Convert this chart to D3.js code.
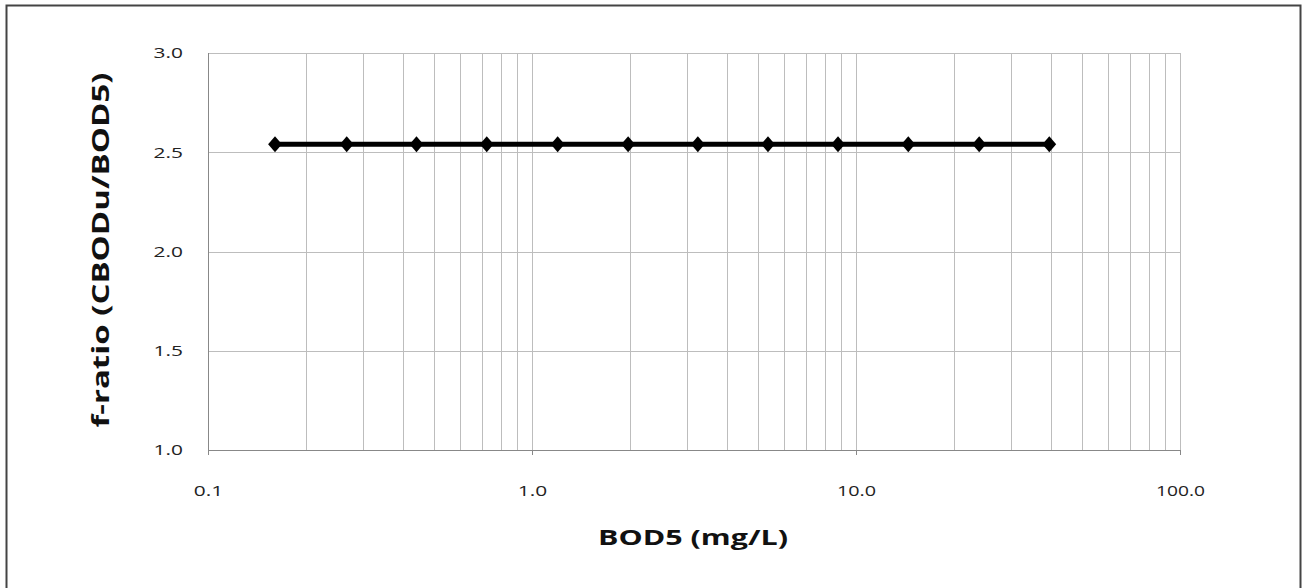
<!DOCTYPE html>
<html>
<head>
<meta charset="utf-8">
<script src="https://cdn.jsdelivr.net/npm/d3@7"></script>
<style>
  body { margin: 0; background: #fff; }
  svg { display: block; font-family: "Open Sans", "DejaVu Sans", sans-serif; }
</style>
</head>
<body>
<svg id="chart" width="1305" height="588"></svg>
<script>
var bod5 = [0.161, 0.268, 0.44, 0.725, 1.2, 1.98, 3.25, 5.35, 8.8, 14.5, 24, 39.5];
var fRatio = [2.54, 2.54, 2.54, 2.54, 2.54, 2.54, 2.54, 2.54, 2.54, 2.54, 2.54, 2.54];
var xTicks = [0.1, 1, 10, 100];
var yTicks = [1.0, 1.5, 2.0, 2.5, 3.0];

var svg = d3.select("#chart");
var plotL = 208, plotT = 53, plotR = 1180, plotB = 450;

// outer frame
svg.append("rect")
    .attr("x", 6.5).attr("y", 5.5)
    .attr("width", 1294).attr("height", 620)
    .attr("fill", "none").attr("stroke", "#444").attr("stroke-width", 2);

var xScale = d3.scaleLog().domain([0.1, 100]).range([plotL, plotR]);
var yScale = d3.scaleLinear().domain([1, 3]).range([plotB, plotT]);

// minor + major vertical grid
var vGrid = [];
[0.1, 1, 10].forEach(function(d) {
    for (var k = 1; k <= 9; k++) vGrid.push(d * k);
});
vGrid.push(100);
svg.append("g").selectAll("line")
    .data(vGrid)
    .enter().append("line")
        .attr("x1", function(d) { return Math.round(xScale(d)) + 0.5; })
        .attr("x2", function(d) { return Math.round(xScale(d)) + 0.5; })
        .attr("y1", plotT).attr("y2", plotB)
        .attr("stroke", "#bdbdbd").attr("stroke-width", 1);

// horizontal grid
svg.append("g").selectAll("line")
    .data(yTicks)
    .enter().append("line")
        .attr("x1", plotL).attr("x2", plotR)
        .attr("y1", function(d) { return Math.round(yScale(d)) + 0.5; })
        .attr("y2", function(d) { return Math.round(yScale(d)) + 0.5; })
        .attr("stroke", "#bdbdbd").attr("stroke-width", 1);

// axes
var xAxis = svg.append("g")
    .attr("transform", "translate(0," + plotB + ")")
    .call(d3.axisBottom(xScale).tickValues(xTicks)
        .tickFormat(d3.format(".1f")).tickSize(5).tickPadding(30));
var yAxis = svg.append("g")
    .attr("transform", "translate(" + plotL + ",0)")
    .call(d3.axisLeft(yScale).tickValues(yTicks)
        .tickFormat(d3.format(".1f")).tickSize(0).tickPadding(25));
[xAxis, yAxis].forEach(function(a) {
    a.select(".domain").attr("stroke", "#888");
    a.selectAll(".tick line").attr("stroke", "#888");
    a.selectAll("text").attr("font-size", 15).attr("fill", "#222")
        .style("font-family", "'Open Sans', sans-serif")
        .attr("textLength", function() { return this.textContent.length * 9.8; })
        .attr("lengthAdjust", "spacingAndGlyphs");
});
yAxis.select(".domain").remove();
yAxis.append("line").attr("x1", 0.5).attr("x2", 0.5).attr("y1", plotT).attr("y2", plotB)
    .attr("stroke", "#888");

// series
var pts = bod5.map(function(d, i) { return [d, fRatio[i]]; });
svg.append("path")
    .datum(pts)
    .attr("fill", "none").attr("stroke", "#000").attr("stroke-width", 5)
    .attr("d", d3.line()
        .x(function(d) { return xScale(d[0]); })
        .y(function(d) { return yScale(d[1]); }));
svg.append("g").selectAll("path")
    .data(pts)
    .enter().append("path")
        .attr("transform", function(d) {
            return "translate(" + xScale(d[0]) + "," + yScale(d[1]) + ") scale(1.35,0.9)";
        })
        .attr("d", d3.symbol().type(d3.symbolDiamond).size(90))
        .attr("fill", "#000");

// titles
svg.append("text")
    .attr("x", 693).attr("y", 545)
    .attr("text-anchor", "middle")
    .attr("font-size", 22).attr("font-weight", "bold").attr("fill", "#111")
    .attr("textLength", 190).attr("lengthAdjust", "spacingAndGlyphs")
    .text("BOD5 (mg/L)");
svg.append("text")
    .attr("transform", "translate(109,250) rotate(-90)")
    .attr("text-anchor", "middle")
    .attr("font-size", 23).attr("font-weight", "bold").attr("fill", "#111")
    .attr("textLength", 355).attr("lengthAdjust", "spacingAndGlyphs")
    .text("f-ratio (CBODu/BOD5)");
</script>
</body>
</html>
